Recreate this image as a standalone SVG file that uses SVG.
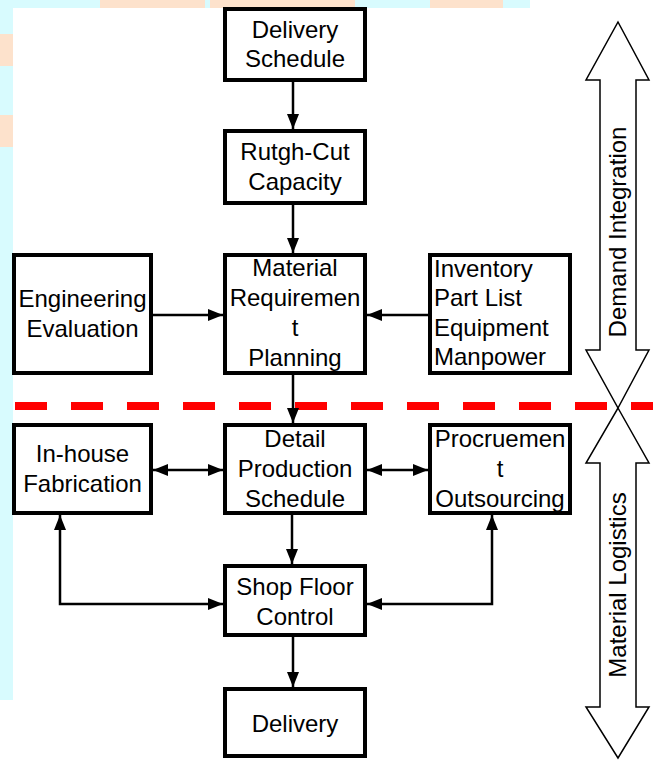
<svg xmlns="http://www.w3.org/2000/svg" width="653" height="760" viewBox="0 0 653 760">
<style>
.box{fill:#fff;stroke:#000;stroke-width:4}
.t{font-family:"Liberation Sans",Arial,sans-serif;font-size:24px;fill:#000;text-anchor:middle}
.tl{text-anchor:start}
.c{fill:none;stroke:#000;stroke-width:2.5}
.big{fill:#fff;stroke:#000;stroke-width:1.5;stroke-linejoin:miter}
</style>
<defs>
<marker id="ah" viewBox="0 0 15 12" refX="15" refY="6" markerWidth="15" markerHeight="12" markerUnits="userSpaceOnUse" orient="auto-start-reverse">
<path d="M0,0 L15,6 L0,12 z" fill="#000"/>
</marker>
</defs>
<rect width="653" height="760" fill="#fff"/>
<g id="background">
<rect x="0" y="0" width="13" height="700" fill="#d8fbfe"/>
<rect x="0" y="0" width="530" height="8" fill="#d8fbfe"/>
<rect x="100" y="0" width="105" height="8" fill="#fde2cc"/>
<rect x="210" y="0" width="145" height="8" fill="#fde2cc"/>
<rect x="430" y="0" width="73" height="8" fill="#fde2cc"/>
<rect x="0" y="34" width="13" height="32" fill="#fde2cc"/>
<rect x="0" y="115" width="13" height="32" fill="#fde2cc"/>
</g>
<g id="divider">
<line x1="15" y1="406" x2="653" y2="406" stroke="#f00" stroke-width="8" stroke-dasharray="32 24"/>
</g>
<g id="demand-integration">
<polygon class="big" points="618,22 649,80 636,80 636,350 649,350 618,408 586,350 600,350 600,80 586,80"/>
<text class="t" transform="translate(626,232) rotate(-90)">Demand Integration</text>
</g>
<g id="material-logistics">
<polygon class="big" points="618,408 649,463 636,463 636,707 649,707 618,758 586,707 600,707 600,463 586,463"/>
<text class="t" transform="translate(626,585) rotate(-90)">Material Logistics</text>
</g>
<g id="connectors">
<line class="c" x1="293" y1="82" x2="293" y2="129" marker-end="url(#ah)"/>
<line class="c" x1="293" y1="205" x2="293" y2="253" marker-end="url(#ah)"/>
<line class="c" x1="153" y1="315" x2="223" y2="315" marker-end="url(#ah)"/>
<line class="c" x1="428" y1="315" x2="367" y2="315" marker-end="url(#ah)"/>
<line class="c" x1="293" y1="375" x2="293" y2="423" marker-end="url(#ah)"/>
<line class="c" x1="153" y1="470" x2="223" y2="470" marker-start="url(#ah)" marker-end="url(#ah)"/>
<line class="c" x1="367" y1="470" x2="428" y2="470" marker-start="url(#ah)" marker-end="url(#ah)"/>
<line class="c" x1="292" y1="515" x2="292" y2="564" marker-end="url(#ah)"/>
<line class="c" x1="293" y1="637" x2="293" y2="687" marker-end="url(#ah)"/>
<polyline class="c" points="60,515 60,604 223,604" marker-start="url(#ah)" marker-end="url(#ah)"/>
<polyline class="c" points="492,515 492,604 367,604" marker-start="url(#ah)" marker-end="url(#ah)"/>
</g>
<g id="delivery-schedule">
<rect class="box" x="225" y="9" width="140" height="71"/>
<text class="t" x="295" y="38">Delivery</text>
<text class="t" x="295" y="67">Schedule</text>
</g>
<g id="rough-cut-capacity">
<rect class="box" x="225" y="131" width="140" height="72"/>
<text class="t" x="295" y="160">Rutgh-Cut</text>
<text class="t" x="295" y="190">Capacity</text>
</g>
<g id="mrp">
<rect class="box" x="225" y="255" width="140" height="118"/>
<text class="t" x="295" y="276">Material</text>
<text class="t" x="295" y="306">Requiremen</text>
<text class="t" x="295" y="336">t</text>
<text class="t" x="295" y="366">Planning</text>
</g>
<g id="engineering-evaluation">
<rect class="box" x="14" y="255" width="137" height="118"/>
<text class="t" x="82.5" y="307">Engineering</text>
<text class="t" x="82.5" y="337">Evaluation</text>
</g>
<g id="inventory">
<rect class="box" x="430" y="255" width="140" height="118"/>
<text class="t tl" x="434" y="277">Inventory</text>
<text class="t tl" x="434" y="306">Part List</text>
<text class="t tl" x="434" y="336">Equipment</text>
<text class="t tl" x="434" y="365">Manpower</text>
</g>
<g id="in-house-fabrication">
<rect class="box" x="14" y="425" width="137" height="88"/>
<text class="t" x="82.5" y="462">In-house</text>
<text class="t" x="82.5" y="492">Fabrication</text>
</g>
<g id="detail-production-schedule">
<rect class="box" x="225" y="425" width="140" height="88"/>
<text class="t" x="295" y="447">Detail</text>
<text class="t" x="295" y="477">Production</text>
<text class="t" x="295" y="507">Schedule</text>
</g>
<g id="procurement-outsourcing">
<rect class="box" x="430" y="425" width="140" height="88"/>
<text class="t" x="500" y="447">Procruemen</text>
<text class="t" x="500" y="477">t</text>
<text class="t" x="500" y="507">Outsourcing</text>
</g>
<g id="shop-floor-control">
<rect class="box" x="225" y="566" width="140" height="69"/>
<text class="t" x="295" y="595">Shop Floor</text>
<text class="t" x="295" y="625">Control</text>
</g>
<g id="delivery">
<rect class="box" x="225" y="689" width="140" height="67"/>
<text class="t" x="295" y="732">Delivery</text>
</g>
</svg>
